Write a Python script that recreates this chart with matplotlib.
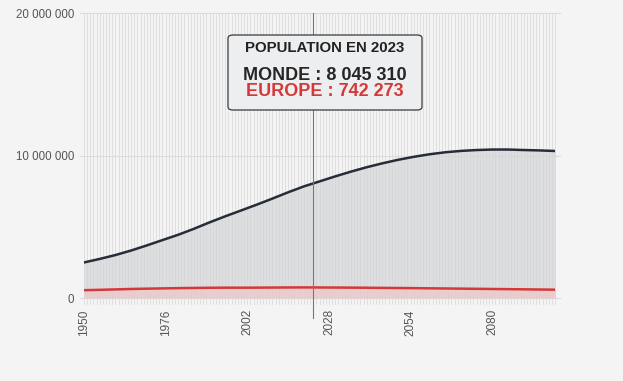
import numpy as np
import matplotlib.pyplot as plt
from matplotlib.patches import FancyBboxPatch

# population in thousands
years = [1950, 1955, 1960, 1965, 1970, 1975, 1980, 1985, 1990, 1995, 2000,
         2005, 2010, 2015, 2020, 2025, 2030, 2035, 2040, 2045, 2050, 2055,
         2060, 2065, 2070, 2075, 2080, 2085, 2090, 2095, 2100]
world = [2499, 2746, 3019, 3337, 3695, 4070, 4444, 4862, 5316, 5743, 6149,
         6558, 6986, 7427, 7841, 8192, 8546, 8879, 9188, 9462, 9709, 9920,
         10099, 10238, 10334, 10396, 10431, 10432, 10397, 10370, 10330]
europe = [549, 576, 605, 635, 657, 677, 694, 708, 721, 727, 726,
          729, 736, 742, 746, 741, 736, 730, 722, 712, 703, 693,
          682, 671, 659, 647, 635, 623, 611, 598, 586]

hover_year = 2023
hover_world = 8045310
hover_europe = 742273
xticks = [1950, 1976, 2002, 2028, 2054, 2080]
yticks = [0, 10000000, 20000000]
ylabels = ["0", "10 000 000", "20 000 000"]

world_v = np.array(world) * 1000
europe_v = np.array(europe) * 1000

bg = "#f4f4f4"
fig = plt.figure(figsize=(6.23, 3.81), dpi=100, facecolor=bg)
ax = fig.add_axes([0.1348, 0.2178, 0.7562, 0.7472])
ax.set_facecolor(bg)
ax.set_xlim(1950, 2100)
ax.set_ylim(0, 20000000)

# yearly vertical grid lines with small tick marks below the axis
for yr in range(1950, 2101):
    ax.plot([yr, yr], [-400000, 20000000], color="#dcdcdc", lw=0.6,
            clip_on=False, zorder=1)
for v in yticks:
    ax.plot([1948.7, 2101.5], [v, v], color="#dcdcdc", lw=0.8,
            clip_on=False, zorder=1)

ax.fill_between(years, 0, world_v, color="#d4d5d8", alpha=0.7, lw=0, zorder=2)
ax.fill_between(years, 0, europe_v, color="#f2c4c4", alpha=0.6, lw=0, zorder=3)
ax.plot(years, world_v, color="#262c38", lw=1.8, zorder=4)
ax.plot(years, europe_v, color="#d63838", lw=1.8, zorder=4)

# hover line
ax.plot([hover_year, hover_year], [-1400000, 20000000], color="#777777",
        lw=0.8, clip_on=False, zorder=5)

for s in ax.spines.values():
    s.set_visible(False)
ax.tick_params(length=0, colors="#555555")
ax.set_xticks(xticks)
ax.set_xticklabels([str(t) for t in xticks], rotation=90, fontsize=8.5,
                   color="#555555", family="Liberation Sans")
ax.tick_params(axis="x", pad=8)
ax.set_yticks(yticks)
ax.set_yticklabels(ylabels, fontsize=8.3, color="#555555",
                   family="Liberation Sans")
ax.tick_params(axis="y", pad=7)

# tooltip
box = FancyBboxPatch((228 / 623, 1 - 110 / 381), 194 / 623, 75 / 381,
                     boxstyle="round,pad=0,rounding_size=0.008",
                     transform=fig.transFigure, facecolor="#eceef0",
                     edgecolor="#3a3a3a", lw=0.9, zorder=10)
fig.patches.append(box)
cx = 325 / 623
fig.text(cx, 1 - 48 / 381, "POPULATION EN %d" % hover_year, ha="center",
         va="center", fontsize=10.8, fontweight="bold", color="#222222",
         family="Liberation Sans", zorder=11)
fig.text(cx, 1 - 75 / 381, "MONDE : " + f"{hover_world:,}".replace(",", " "),
         ha="center", va="center", fontsize=13, fontweight="bold",
         color="#262626", family="Liberation Sans", zorder=11)
fig.text(cx, 1 - 92 / 381, "EUROPE : " + f"{hover_europe:,}".replace(",", " "),
         ha="center", va="center", fontsize=13, fontweight="bold",
         color="#d63838", family="Liberation Sans", zorder=11)

fig.savefig("out.png", dpi=100, facecolor=bg)
